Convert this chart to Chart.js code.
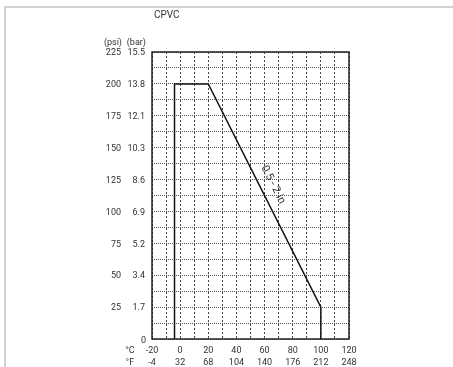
<!DOCTYPE html>
<html>
<head>
<meta charset="utf-8">
<script src="https://cdn.jsdelivr.net/npm/chart.js@4"></script>
<style>
  html, body { margin: 0; padding: 0; background: #fff; }
  #grafico { display: block; }
</style>
</head>
<body>
<canvas id="grafico" width="453" height="367"></canvas>
<script>
// datos
const tempC = [-4, -4, 20, 100, 100];
const presionPsi = [0, 200, 200, 25, 0];
const serieNombre = '0.5 - 2 in';

const ticksC = [-20, 0, 20, 40, 60, 80, 100, 120];
const ticksF = ['-4', '32', '68', '104', '140', '176', '212', '248'];
const ticksPsi = [25, 50, 75, 100, 125, 150, 175, 200, 225];
const ticksBar = ['1.7', '3.4', '5.2', '6.9', '8.6', '10.3', '12.1', '13.8', '15.5'];

const fuente = '9px Roboto';
const colorTexto = '#333';

// etiquetas, marco y texto de la serie
const etiquetas = {
  id: 'etiquetas',
  beforeDraw(chart) {
    const c = chart.ctx;
    c.save();
    c.fillStyle = '#d2d2d2';
    c.fillRect(4, 6, 449, 2);
    c.fillRect(4, 6, 2, 361);
    c.restore();
  },
  afterDraw(chart) {
    const c = chart.ctx;
    const x = chart.scales.x, y = chart.scales.y;
    const a = chart.chartArea;
    c.save();
    // marco
    c.strokeStyle = '#222';
    c.lineWidth = 1.5;
    c.strokeRect(a.left, a.top, a.right - a.left, a.bottom - a.top);

    c.fillStyle = colorTexto;
    c.font = '10px Roboto';
    c.textAlign = 'left';
    c.textBaseline = 'middle';
    c.fillText('CPVC', 154, 15);

    c.font = fuente;
    c.textAlign = 'right';
    c.fillText('(psi)', 122, 43);
    c.fillText('(bar)', 146, 43);
    ticksPsi.forEach((v, i) => {
      const py = y.getPixelForValue(v) + 1;
      c.fillText(String(v), 121, py);
      c.fillText(ticksBar[i], 145, py);
    });
    c.fillText('0', 146, y.getPixelForValue(0) + 2);

    c.textAlign = 'center';
    c.fillText('°C', 130, 351);
    c.fillText('°F', 130, 363);
    ticksC.forEach((v, i) => {
      const px = x.getPixelForValue(v);
      c.fillText(String(v), px, 351);
      c.fillText(ticksF[i], px, 363);
    });

    // nombre de la serie a lo largo de la linea
    const ang = Math.atan2(y.getPixelForValue(presionPsi[3]) - y.getPixelForValue(presionPsi[2]),
                           x.getPixelForValue(tempC[3]) - x.getPixelForValue(tempC[2]));
    c.translate(x.getPixelForValue(66), y.getPixelForValue(121));
    c.rotate(ang);
    c.font = '11px Roboto';
    c.fillText(serieNombre, 0, 0);
    c.restore();
  }
};

new Chart(document.getElementById('grafico').getContext('2d'), {
  type: 'scatter',
  data: {
    datasets: [{
      label: serieNombre,
      data: tempC.map((t, i) => ({ x: t, y: presionPsi[i] })),
      showLine: true,
      borderColor: '#111',
      borderWidth: 1.5,
      pointRadius: 0,
      tension: 0
    }]
  },
  options: {
    responsive: false,
    animation: false,
    layout: { padding: { left: 152, top: 52, right: 104, bottom: 28 } },
    plugins: {
      legend: { display: false },
      tooltip: { enabled: false }
    },
    scales: {
      x: {
        type: 'linear',
        min: -20,
        max: 120,
        ticks: { display: false, stepSize: 10 },
        grid: { color: '#444', drawTicks: false, lineWidth: 1 },
        border: { display: false, dash: [2, 2] }
      },
      y: {
        type: 'linear',
        min: 0,
        max: 225,
        ticks: { display: false, stepSize: 12.5 },
        grid: { color: '#555', drawTicks: false, lineWidth: 1 },
        border: { display: false, dash: [1, 1] }
      }
    }
  },
  plugins: [etiquetas]
});
</script>
</body>
</html>
